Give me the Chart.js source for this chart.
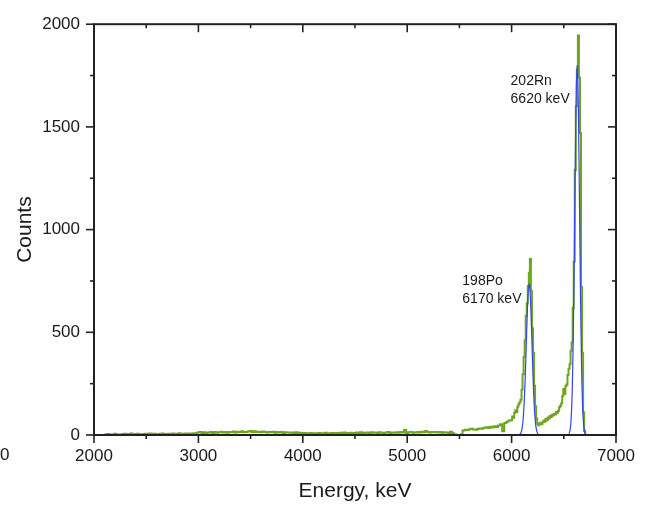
<!DOCTYPE html>
<html>
<head>
<meta charset="utf-8">
<script src="https://cdn.jsdelivr.net/npm/chart.js@4"></script>
<style>
  body { margin: 0; background: #fff; }
</style>
</head>
<body>
<canvas id="spectrum" width="654" height="506"></canvas>
<script>
// ---- data ----
// coarse bins 2100..5980 keV, 20 keV wide
const lowStart = 2100, lowStep = 20;
const lowCounts = [
  4, 0, 5, 3, 0, 6, 4, 3, 0, 5,
  6, 5, 4, 7, 3, 5, 6, 0, 4, 5,
  6, 5, 7, 4, 6, 5, 3, 6, 7, 5,
  5, 6, 4, 7, 5, 6, 8, 5, 6, 7,
  6, 7, 5, 8, 6, 12, 14, 10, 13, 9,
  12, 14, 10, 15, 11, 13, 16, 12, 14, 11,
  15, 13, 17, 12, 16, 14, 18, 13, 15, 17,
  19, 15, 18, 14, 16, 13, 17, 15, 12, 14,
  13, 16, 11, 14, 12, 15, 10, 13, 12, 11,
  12, 10, 13, 9, 11, 8, 10, 9, 8, 10,
  7, 9, 8, 10, 7, 9, 11, 8, 9, 10,
  8, 10, 9, 11, 8, 12, 9, 10, 11, 9,
  10, 12, 9, 13, 10, 11, 12, 9, 13, 11,
  12, 10, 13, 11, 9, 12, 14, 10, 12, 11,
  13, 11, 14, 12, 24, 10, 13, 15, 11, 12,
  14, 12, 16, 13, 19, 15, 12, 14, 13, 15,
  12, 14, 11, 13, 12, 10, 16, 8, 3, 0,
  0, 2, 22, 26, 24, 28, 30, 27, 25, 29,
  32, 30, 35, 38, 34, 40, 37, 42, 39, 46,
  52, 18, 58, 64, 70
];
// fine bins 6000..6720 keV, 10 keV wide
const peakStart = 6000, peakStep = 10;
const peakCounts = [
  72, 90, 84, 108, 120, 112, 138, 150, 160, 172,
  220, 296, 380, 460, 580, 640, 725, 790, 857, 700,
  520, 400, 240, 140, 80, 55, 48, 56, 60, 52,
  62, 70, 64, 78, 72, 85, 80, 92, 88, 98,
  95, 104, 100, 112, 108, 118, 135, 142, 155, 190,
  224, 200, 238, 246, 292, 322, 345, 410, 450, 620,
  845, 1290, 1600, 1780, 1945, 1740, 1470, 720, 400, 110,
  20, 0, 0
];
// fitted peaks (blue)
const poEnergy = [6080, 6090, 6100, 6110, 6120, 6130, 6140, 6150, 6160, 6170,
                  6180, 6190, 6200, 6210, 6220, 6230, 6240, 6250, 6260];
const poFit = [4, 11, 31, 74, 152, 274, 431, 591, 706, 736,
               669, 530, 366, 220, 115, 53, 21, 7, 2];
const rnEnergy = [6550, 6560, 6570, 6580, 6590, 6600, 6610, 6620, 6630,
                  6640, 6650, 6660, 6670, 6680, 6690, 6700, 6710];
const rnFit = [6, 23, 75, 204, 461, 860, 1329, 1699, 1798,
               1575, 1143, 686, 341, 140, 48, 13, 3];

const xTicks = [2000, 3000, 4000, 5000, 6000, 7000];
const yTicks = [0, 500, 1000, 1500, 2000];
const peakNotes = [
  { lines: ['202Rn', '6620 keV'], energy: 5990, counts: 1702 },
  { lines: ['198Po', '6170 keV'], energy: 5528, counts: 730 }
];

const green = [];
lowCounts.forEach((c, i) => green.push({ x: lowStart + i * lowStep, y: c }));
peakCounts.forEach((c, i) => green.push({ x: peakStart + i * peakStep, y: c }));
const po = poEnergy.map((e, i) => ({ x: e, y: poFit[i] }));
const rn = rnEnergy.map((e, i) => ({ x: e, y: rnFit[i] }));

const FONT = "'Liberation Sans', Arial, sans-serif";

// frame with inward ticks on top/right, outward on bottom/left
const framePlugin = {
  id: 'frame',
  afterDraw(chart) {
    const { ctx, chartArea: a, scales: { x, y } } = chart;
    ctx.save();
    ctx.strokeStyle = '#222';
    ctx.lineWidth = 2;
    ctx.strokeRect(a.left, a.top, a.right - a.left, a.bottom - a.top);
    ctx.lineWidth = 1.6;
    const seg = (x1, y1, x2, y2) => {
      ctx.beginPath(); ctx.moveTo(x1, y1); ctx.lineTo(x2, y2); ctx.stroke();
    };
    xTicks.forEach((v, i) => {
      const px = x.getPixelForValue(v);
      seg(px, a.bottom, px, a.bottom + 8);
      seg(px, a.top, px, a.top + 8);
      if (i < xTicks.length - 1) {
        const m = x.getPixelForValue((v + xTicks[i + 1]) / 2);
        seg(m, a.bottom, m, a.bottom + 4);
        seg(m, a.top, m, a.top + 4);
      }
    });
    yTicks.forEach((v, i) => {
      const py = y.getPixelForValue(v);
      seg(a.left - 8, py, a.left, py);
      seg(a.right - 8, py, a.right, py);
      if (i < yTicks.length - 1) {
        const m = y.getPixelForValue((v + yTicks[i + 1]) / 2);
        seg(a.left - 4, m, a.left, m);
        seg(a.right - 4, m, a.right, m);
      }
    });
    // peak labels
    ctx.fillStyle = '#1a1a1a';
    ctx.font = '14px ' + FONT;
    ctx.textBaseline = 'alphabetic';
    peakNotes.forEach(n => {
      const px = x.getPixelForValue(n.energy);
      const py = y.getPixelForValue(n.counts);
      n.lines.forEach((t, k) => ctx.fillText(t, px, py + k * 18));
    });
    // stray zero at the far left
    ctx.font = '17px ' + FONT;
    ctx.fillText('0', 0, 460);
    ctx.restore();
  }
};

new Chart(document.getElementById('spectrum'), {
  type: 'line',
  data: {
    datasets: [
      { data: green, borderColor: '#6ea51f', borderWidth: 2, pointRadius: 0,
        stepped: 'middle', order: 2 },
      { data: po, borderColor: '#3344ee', borderWidth: 1.2, pointRadius: 0,
        tension: 0.3, order: 1 },
      { data: rn, borderColor: '#3344ee', borderWidth: 1.2, pointRadius: 0,
        tension: 0.3, order: 1 }
    ]
  },
  options: {
    responsive: false,
    animation: false,
    layout: { padding: { top: 15, right: 38, left: 0, bottom: 0 } },
    plugins: { legend: { display: false }, tooltip: { enabled: false } },
    scales: {
      x: {
        type: 'linear', min: 2000, max: 7000,
        afterFit: s => { s.height = 71; },
        afterBuildTicks: s => { s.ticks = xTicks.map(v => ({ value: v })); },
        grid: { display: false, drawTicks: false },
        border: { display: false },
        ticks: { padding: 11, color: '#1a1a1a', font: { family: FONT, size: 17 },
                 maxRotation: 0, autoSkip: false, callback: v => String(v) },
        title: { display: true, text: 'Energy, keV', color: '#1a1a1a',
                 font: { family: FONT, size: 21 }, padding: { top: 0, bottom: 2 } }
      },
      y: {
        min: 0, max: 2000,
        afterFit: s => { s.width = 94; },
        afterBuildTicks: s => { s.ticks = yTicks.map(v => ({ value: v })); },
        grid: { display: false, drawTicks: false },
        border: { display: false },
        ticks: { padding: 14, color: '#1a1a1a', font: { family: FONT, size: 17 },
                 callback: v => String(v) },
        title: { display: true, text: 'Counts', color: '#1a1a1a',
                 font: { family: FONT, size: 21 }, padding: { top: 13, bottom: 0 } }
      }
    }
  },
  plugins: [framePlugin]
});
</script>
</body>
</html>
